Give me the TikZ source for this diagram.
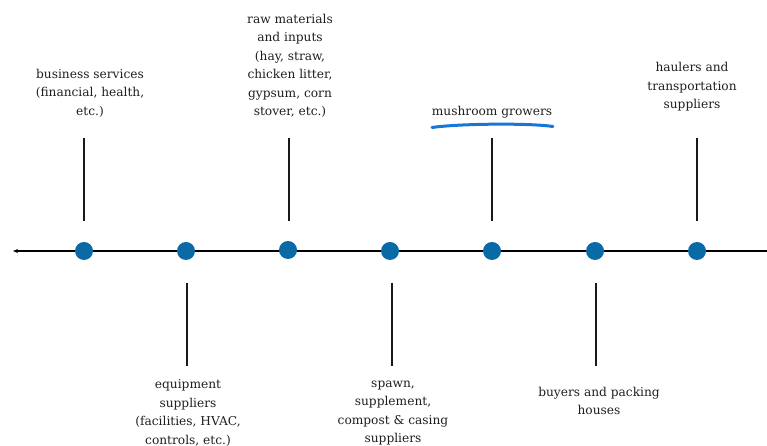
\documentclass[tikz,border=0pt]{standalone}
\usepackage{fontspec}
\setmainfont{DejaVu Serif}
\usepackage{xcolor}
\usetikzlibrary{arrows.meta,positioning}

\definecolor{dotblue}{RGB}{10,106,166}
\definecolor{penblue}{RGB}{24,118,214}

\begin{document}
\begin{tikzpicture}[
  x=1pt, y=1pt,
  font=\fontsize{12.2}{18.5}\selectfont,
  dot/.style={circle, fill=dotblue, inner sep=0pt, minimum size=18pt},
  lbl/.style={align=center, inner sep=0pt, text=black!88},
  stem/.style={line width=2pt, black!90},
  >={Stealth[length=5pt, width=4pt]}
]
\useasboundingbox (0,0) rectangle (767,446);

% time line
\coordinate (axisL) at (13,195);
\coordinate (axisR) at (767,195);
\draw[<-, line width=1.8pt] (axisL)--(axisR);

\node[dot] (dotBiz) at (84,195) {};
\node[dot] (dotEquip) at (186,195) {};
\node[dot] (dotRaw) at (288,196) {};
\node[dot] (dotSpawn) at (390,195) {};
\node[dot] (dotGrow) at (492,195) {};
\node[dot] (dotBuy) at (595,195) {};
\node[dot] (dotHaul) at (697,195) {};

% labels above
\node[lbl] (biz) at (90,353) {business services\\(financial, health,\\etc.)};
\node[lbl] (raw) at (290,380) {raw materials\\and inputs\\(hay, straw,\\chicken litter,\\gypsum, corn\\stover, etc.)};
\node[lbl] (grow) at (492,334) {mushroom growers};
\node[lbl] (haul) at (692,359) {haulers and\\transportation\\suppliers};

% labels below
\node[lbl] (equip) at (188,33) {equipment\\suppliers\\(facilities, HVAC,\\controls, etc.)};
\node[lbl] (spawn) at (393,33) {spawn,\\supplement,\\compost \& casing\\suppliers};
\node[lbl] (buy) at (599,45) {buyers and packing\\houses};

% stems
\coordinate (bizA) at (84,308);   \coordinate (bizB) at (84,225);
\coordinate (rawA) at (289,308);  \coordinate (rawB) at (289,225);
\coordinate (growA) at (492,308); \coordinate (growB) at (492,225);
\coordinate (haulA) at (697,308); \coordinate (haulB) at (697,225);
\coordinate (equipA) at (187,163); \coordinate (equipB) at (187,80);
\coordinate (spawnA) at (392,163); \coordinate (spawnB) at (392,80);
\coordinate (buyA) at (596,163);   \coordinate (buyB) at (596,80);
\draw[stem] (bizA)--(bizB); \draw[stem] (rawA)--(rawB);
\draw[stem] (growA)--(growB); \draw[stem] (haulA)--(haulB);
\draw[stem] (equipA)--(equipB); \draw[stem] (spawnA)--(spawnB);
\draw[stem] (buyA)--(buyB);

% marker stroke under the growers
\coordinate (penL) at (432,318.5);
\coordinate (penR) at (553,319.5);
\draw[penblue, line width=3pt, line cap=round] (penL) .. controls (460,322.5) and (530,323) .. (penR);
\end{tikzpicture}
\end{document}
